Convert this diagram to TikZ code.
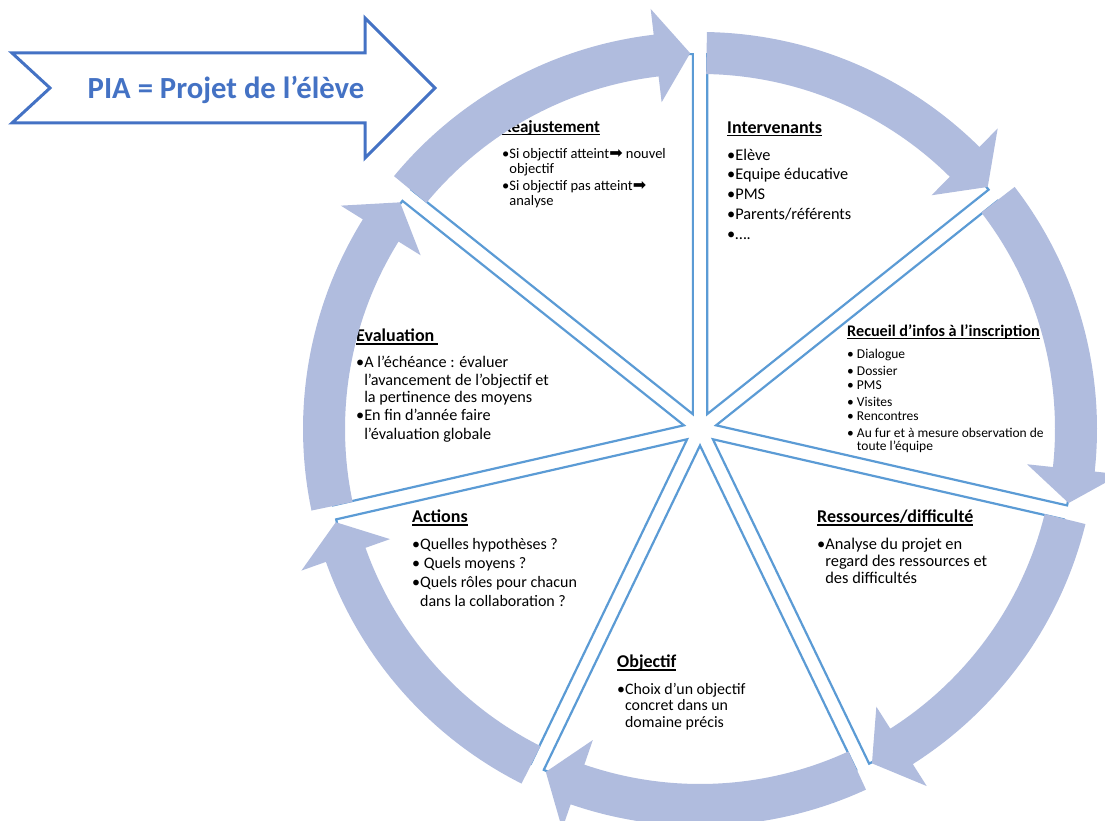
\documentclass[tikz,border=0pt]{standalone}
\usepackage{fontspec}
\setmainfont{Carlito}
\newfontfamily\symfont{DejaVu Sans}
\definecolor{ringblue}{RGB}{176,188,222}
\definecolor{lineblue}{RGB}{91,155,213}
\definecolor{titleblue}{RGB}{68,114,196}
\usetikzlibrary{positioning}
\newcommand{\hdrline}[1]{\setbox0=\hbox{#1}\leavevmode\rlap{\rule[-3pt]{\wd0}{1.4pt}}\box0}

\begin{document}
\begin{tikzpicture}[x=1pt,y=1pt,
        sector/.style={draw=lineblue,line width=2.2pt,fill=white},
        ringarrow/.style={fill=ringblue},
        hdr/.style={inner sep=0pt,anchor=west,font=\bfseries\fontsize{18}{20}\selectfont},
        itm/.style={inner sep=0pt,anchor=north west,align=left}
        ]
        \clip (0,0) rectangle (1105,821);

        % the title arrow
        \draw[titleblue,line width=3pt] (12,768) -- (365,768) -- (365,803) -- (435,733) -- (365,663) -- (365,698) -- (12,698) -- (50,733) -- cycle;
        \node[font=\bfseries\fontsize{30.7}{34}\selectfont,text=titleblue] (title) at (226,731) {PIA = Projet de l’élève};

        % the sectors
        \begin{scope}[shift={(700,392)}]
        \draw[sector] (64.286:16.5) -- ++(90:360) arc[start angle=90,end angle=38.571,radius=360] -- cycle;
        \draw[sector] (12.857:16.5) -- ++(38.571:360) arc[start angle=38.571,end angle=-12.857,radius=360] -- cycle;
        \draw[sector] (-38.571:16.5) -- ++(-12.857:360) arc[start angle=-12.857,end angle=-64.286,radius=360] -- cycle;
        \draw[sector] (-90:16.5) -- ++(-64.286:360) arc[start angle=-64.286,end angle=-115.714,radius=360] -- cycle;
        \draw[sector] (-141.429:16.5) -- ++(-115.714:360) arc[start angle=-115.714,end angle=-167.143,radius=360] -- cycle;
        \draw[sector] (167.143:16.5) -- ++(192.857:360) arc[start angle=192.857,end angle=141.429,radius=360] -- cycle;
        \draw[sector] (115.714:16.5) -- ++(141.429:360) arc[start angle=141.429,end angle=90,radius=360] -- cycle;
        \end{scope}

        % the texts
        \node[hdr,font=\bfseries\fontsize{17}{19}\selectfont] (reaj) at (502,693) {\hdrline{Réajustement}};
        \node[below=13pt of reaj.south west,itm,font=\fontsize{14.5}{15}\selectfont] (reajitm)
            {\textbullet Si objectif atteint{\symfont\fontsize{16}{15}\selectfont ➡} nouvel\\
             \phantom{\textbullet}objectif\\[2pt]
             \textbullet Si objectif pas atteint{\symfont\fontsize{16}{15}\selectfont ➡}\\
             \phantom{\textbullet}analyse};

        \node[hdr] (interv) at (727,692) {\hdrline{Intervenants}};
        \node[below=12pt of interv.south west,itm,font=\fontsize{16.3}{19.8}\selectfont] (intervitm)
            {\textbullet Elève\\ \textbullet Equipe éducative\\ \textbullet PMS\\ \textbullet Parents/référents\\ \textbullet ….};

        \node[hdr,font=\bfseries\fontsize{16.2}{18}\selectfont] (recueil) at (847,489) {\hdrline{Recueil d’infos à l’inscription}};
        \node[below=9pt of recueil.south west,itm,font=\fontsize{13.5}{14}\selectfont] (recueilitm)
            {\textbullet{} Dialogue\\[3pt] \textbullet{} Dossier\\ \textbullet{} PMS\\[3pt] \textbullet{} Visites\\
             \textbullet{} Rencontres\\[3pt] \textbullet{} Au fur et à mesure observation de\\[-1pt]
             \phantom{\textbullet{} }toute l’équipe};

        \node[hdr] (eval) at (356,484) {\hdrline{Evaluation }};
        \node[below=11pt of eval.south west,itm,font=\fontsize{16.2}{17.5}\selectfont] (evalitm)
            {\textbullet A l’échéance : évaluer\\
             \phantom{\textbullet}l’avancement de l’objectif et\\
             \phantom{\textbullet}la pertinence des moyens\\
             \textbullet En fin d’année faire\\[1.5pt]
             \phantom{\textbullet}l’évaluation globale};

        \node[hdr] (actions) at (412,303) {\hdrline{Actions}};
        \node[below=12pt of actions.south west,itm,font=\fontsize{16}{19.3}\selectfont] (actionsitm)
            {\textbullet Quelles hypothèses ?\\
             \textbullet{} Quels moyens ?\\
             \textbullet Quels rôles pour chacun\\[-1pt]
             \phantom{\textbullet}dans la collaboration ?};

        \node[hdr] (ressources) at (817,303) {\hdrline{Ressources/difficulté}};
        \node[below=12pt of ressources.south west,itm,font=\fontsize{16.4}{17}\selectfont] (ressourcesitm)
            {\textbullet Analyse du projet en\\
             \phantom{\textbullet}regard des ressources et\\
             \phantom{\textbullet}des difficultés};

        \node[hdr] (objectif) at (617,158) {\hdrline{Objectif}};
        \node[below=12pt of objectif.south west,itm,font=\fontsize{15.9}{16.5}\selectfont] (objectifitm)
            {\textbullet Choix d’un objectif\\
             \phantom{\textbullet}concret dans un\\
             \phantom{\textbullet}domaine précis};

        % the ring of arrows
        \begin{scope}[shift={(700,392)}]
        \fill[ringarrow] (89:397) arc[start angle=89,end angle=45.271,radius=397] -- (45.271:423) -- (40.071:376) -- (45.271:329) -- (45.271:355) arc[start angle=45.271,end angle=89,radius=355] -- cycle;
        \fill[ringarrow] (37.571:397) arc[start angle=37.571,end angle=-6.157,radius=397] -- (-6.157:423) -- (-11.357:376) -- (-6.157:329) -- (-6.157:355) arc[start angle=-6.157,end angle=37.571,radius=355] -- cycle;
        \fill[ringarrow] (-13.857:397) arc[start angle=-13.857,end angle=-57.586,radius=397] -- (-57.586:423) -- (-62.786:376) -- (-57.586:329) -- (-57.586:355) arc[start angle=-57.586,end angle=-13.857,radius=355] -- cycle;
        \fill[ringarrow] (-65.286:397) arc[start angle=-65.286,end angle=-109.014,radius=397] -- (-109.014:423) -- (-114.214:376) -- (-109.014:329) -- (-109.014:355) arc[start angle=-109.014,end angle=-65.286,radius=355] -- cycle;
        \fill[ringarrow] (-116.714:397) arc[start angle=-116.714,end angle=-160.443,radius=397] -- (-160.443:423) -- (-165.643:376) -- (-160.443:329) -- (-160.443:355) arc[start angle=-160.443,end angle=-116.714,radius=355] -- cycle;
        \fill[ringarrow] (191.857:397) arc[start angle=191.857,end angle=148.129,radius=397] -- (148.129:423) -- (142.929:376) -- (148.129:329) -- (148.129:355) arc[start angle=148.129,end angle=191.857,radius=355] -- cycle;
        \fill[ringarrow] (140.429:397) arc[start angle=140.429,end angle=96.7,radius=397] -- (96.7:423) -- (91.5:376) -- (96.7:329) -- (96.7:355) arc[start angle=96.7,end angle=140.429,radius=355] -- cycle;
        \end{scope}
\end{tikzpicture}
\end{document}
